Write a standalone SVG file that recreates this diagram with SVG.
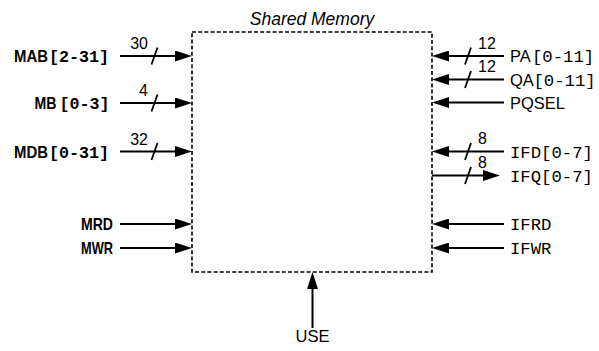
<svg xmlns="http://www.w3.org/2000/svg" width="599" height="351" viewBox="0 0 599 351">
<style>
.sans{font-family:"Liberation Sans",Arial,sans-serif;font-size:16.5px;fill:#000}
.sansb{font-family:"Liberation Sans",Arial,sans-serif;font-size:17px;font-weight:bold;fill:#000}
.mono{font-family:"Liberation Mono","DejaVu Sans Mono",monospace;font-size:17.3px;fill:#000}
.monob{font-family:"Liberation Mono","DejaVu Sans Mono",monospace;font-size:16.7px;font-weight:bold;fill:#000}
.num{font-family:"Liberation Sans",Arial,sans-serif;font-size:16px;fill:#000}
.title{font-family:"Liberation Sans",Arial,sans-serif;font-size:17.5px;font-style:italic;fill:#000}
.box{fill:none;stroke:#000;stroke-width:1.6;stroke-dasharray:4 2.2}
.wire{fill:none;stroke:#000;stroke-width:2;marker-end:url(#arr)}
.slash{fill:none;stroke:#000;stroke-width:1.8}
</style>
<defs>
<marker id="arr" markerUnits="userSpaceOnUse" markerWidth="17" markerHeight="11" refX="7" refY="5.5" orient="auto">
<path d="M0,0 L17,5.5 L0,11 Z" fill="#000"/>
</marker>
</defs>
<rect width="599" height="351" fill="#fff"/>
<g id="shared-memory">
<rect class="box" x="192" y="32" width="240" height="240"/>
<text class="title" x="312" y="25" text-anchor="middle">Shared Memory</text>
</g>
<g id="connectors">
<line class="wire" x1="120" y1="56" x2="182" y2="56"/>
<line class="wire" x1="120" y1="103" x2="182" y2="103"/>
<line class="wire" x1="120" y1="151.5" x2="182" y2="151.5"/>
<line class="wire" x1="120" y1="224" x2="182" y2="224"/>
<line class="wire" x1="120" y1="248" x2="182" y2="248"/>
<line class="wire" x1="504" y1="56" x2="442" y2="56"/>
<line class="wire" x1="504" y1="79.5" x2="442" y2="79.5"/>
<line class="wire" x1="504" y1="102.5" x2="442" y2="102.5"/>
<line class="wire" x1="504" y1="151.5" x2="442" y2="151.5"/>
<line class="wire" x1="432" y1="175.5" x2="490" y2="175.5"/>
<line class="wire" x1="504" y1="224" x2="442" y2="224"/>
<line class="wire" x1="504" y1="248" x2="442" y2="248"/>
<line class="wire" x1="312.5" y1="328" x2="312.5" y2="282"/>
<line class="slash" x1="151.5" y1="64.5" x2="157.5" y2="47.5"/>
<line class="slash" x1="151.5" y1="111.5" x2="157.5" y2="94.5"/>
<line class="slash" x1="151.5" y1="160" x2="157.5" y2="143"/>
<line class="slash" x1="465" y1="64.5" x2="471" y2="47.5"/>
<line class="slash" x1="465" y1="88" x2="471" y2="71"/>
<line class="slash" x1="465" y1="160" x2="471" y2="143"/>
<line class="slash" x1="465" y1="184" x2="471" y2="167"/>
<text class="num" x="148" y="49" text-anchor="end">30</text>
<text class="num" x="148" y="96" text-anchor="end">4</text>
<text class="num" x="148" y="144.5" text-anchor="end">32</text>
<text class="num" x="478" y="48.5">12</text>
<text class="num" x="478" y="72">12</text>
<text class="num" x="478" y="143.5">8</text>
<text class="num" x="478" y="167.5">8</text>
</g>
<g id="MAB">
<text class="sansb" x="14" y="62" textLength="34" lengthAdjust="spacingAndGlyphs">MAB</text>
<text class="monob" x="49" y="62">[2-31]</text>
</g>
<g id="MB">
<text class="sansb" x="34.5" y="109" textLength="22" lengthAdjust="spacingAndGlyphs">MB</text>
<text class="monob" x="59.5" y="109">[0-3]</text>
</g>
<g id="MDB">
<text class="sansb" x="14" y="157.5" textLength="34" lengthAdjust="spacingAndGlyphs">MDB</text>
<text class="monob" x="49" y="157.5">[0-31]</text>
</g>
<g id="MRD"><text class="sansb" x="81" y="230" textLength="32" lengthAdjust="spacingAndGlyphs">MRD</text></g>
<g id="MWR"><text class="sansb" x="81" y="254" textLength="32" lengthAdjust="spacingAndGlyphs">MWR</text></g>
<g id="PA">
<text class="sans" x="510" y="62">PA</text>
<text class="mono" x="532" y="62">[0-11]</text>
</g>
<g id="QA">
<text class="sans" x="510" y="85.5">QA</text>
<text class="mono" x="533.5" y="85.5">[0-11]</text>
</g>
<g id="PQSEL"><text class="sans" x="510" y="108.5">PQSEL</text></g>
<g id="IFD"><text class="mono" x="510" y="157.5">IFD[0-7]</text></g>
<g id="IFQ"><text class="mono" x="510" y="181.5">IFQ[0-7]</text></g>
<g id="IFRD"><text class="mono" x="510" y="230">IFRD</text></g>
<g id="IFWR"><text class="mono" x="510" y="254">IFWR</text></g>
<g id="USE"><text class="sans" x="312.5" y="341.5" text-anchor="middle">USE</text></g>
</svg>
